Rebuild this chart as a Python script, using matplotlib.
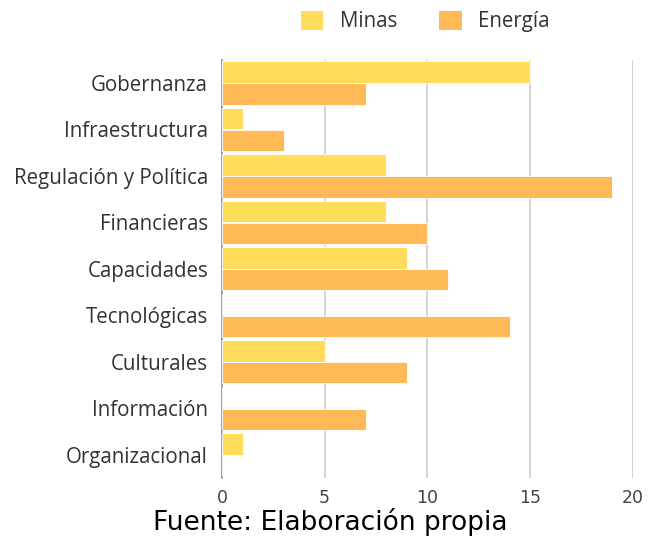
import numpy as np
import matplotlib.pyplot as plt
from matplotlib.patches import Patch

# datos
categorias = ['Gobernanza', 'Infraestructura', 'Regulación y Política', 'Financieras',
              'Capacidades', 'Tecnológicas', 'Culturales', 'Información', 'Organizacional']
minas = [15, 1, 8, 8, 9, 0, 5, 0, 1]
energia = [7, 3, 19, 10, 11, 14, 9, 7, 0]

COLOR_MINAS = '#FFDC5A'
COLOR_ENERGIA = '#FFB957'

fig = plt.figure(figsize=(6.51, 5.38), dpi=100)
ax = fig.add_axes([0.341, 0.1115, 0.631, 0.7775])

y = np.arange(len(categorias))
h = 0.46
off = 0.235
ax.barh(y - off, minas, height=h, color=COLOR_MINAS, edgecolor='white', linewidth=0.6, zorder=3)
ax.barh(y + off, energia, height=h, color=COLOR_ENERGIA, edgecolor='white', linewidth=0.6, zorder=3)

ax.set_xlim(0, 20)
ax.set_ylim(len(categorias) - 0.5, -0.5)
ax.set_xticks([0, 5, 10, 15, 20])
ax.set_yticks(y)
ax.set_yticklabels(categorias, family='Open Sans', fontsize=14.8, color='#333333')
for t in ax.get_xticklabels():
    t.set_fontsize(12.5)
    t.set_color('#444444')
ax.tick_params(axis='both', length=0)
ax.tick_params(axis='y', pad=10)
ax.tick_params(axis='x', pad=8)

ax.grid(axis='x', color='#d0d0d0', linewidth=1.3, zorder=0)
for s in ['top', 'right', 'bottom']:
    ax.spines[s].set_visible(False)
ax.spines['left'].set_color('#999999')
ax.spines['left'].set_linewidth(1.3)

handles = [Patch(facecolor=COLOR_MINAS, edgecolor='none', label='Minas'),
           Patch(facecolor=COLOR_ENERGIA, edgecolor='none', label='Energía')]
fig.legend(handles=handles, loc='center', bbox_to_anchor=(0.653, 0.96), ncol=2,
           frameon=False, handlelength=1.1, handleheight=1.1, handletextpad=0.8,
           columnspacing=2.05, prop={'family': 'Open Sans', 'size': 14.8},
           labelcolor='#333333')

fig.text(0.508, 0.03, 'Fuente: Elaboración propia', ha='center', va='center',
         fontsize=19, color='black')

fig.savefig('out.png', dpi=100, facecolor='white')
